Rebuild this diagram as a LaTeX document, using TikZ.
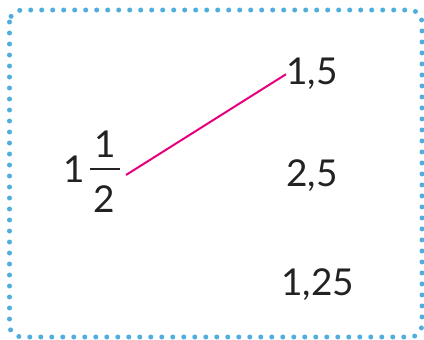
\documentclass[tikz,border=0pt]{standalone}
\usepackage{fontspec}
\setmainfont{Lato}
\usetikzlibrary{positioning}
\definecolor{dotblue}{HTML}{4FAEDD}
\definecolor{linkpink}{HTML}{E6007E}
\definecolor{inkdark}{HTML}{222222}

\begin{document}
\begin{tikzpicture}[
  x=1pt, y=-1pt,
  num/.style  = {font=\fontsize{37}{42}\selectfont, text=inkdark, inner sep=0pt, anchor=base west},
  frame/.style = {draw=dotblue, line width=5pt, line cap=round,
                  dash pattern=on 0pt off 11pt, rounded corners=12pt},
  link/.style = {draw=linkpink, line width=2pt},
]
\useasboundingbox (0,0) rectangle (424,340);

% --- the dotted frame ----------------------------------------------------------------------
\draw[frame] (9.5,10) rectangle (422,337);

% --- the mixed number on the left ------------------------------------------------------------
\node[num] (whole) at (63,182) {1};
\node[num] (numer) at (94,157) {1};
\node[num] (denom) at (93,212) {2};
\node[fill=inkdark, minimum width=30pt, minimum height=2pt, inner sep=0pt] (bar) at (105,169) {};
\coordinate (mixend) at (126,175);

% --- the decimals on the right -------------------------------------------------------------
\node[num] (onefive)  at (286,84)  {1,5};
\node[num] (twofive)  at (286,186) {2,5};
\node[num] (onetwofive) at (281,295) {1,25};

% --- the match -------------------------------------------------------------------------------
\draw[link] (mixend) -- ([yshift=-1pt]onefive.west);

\end{tikzpicture}
\end{document}
